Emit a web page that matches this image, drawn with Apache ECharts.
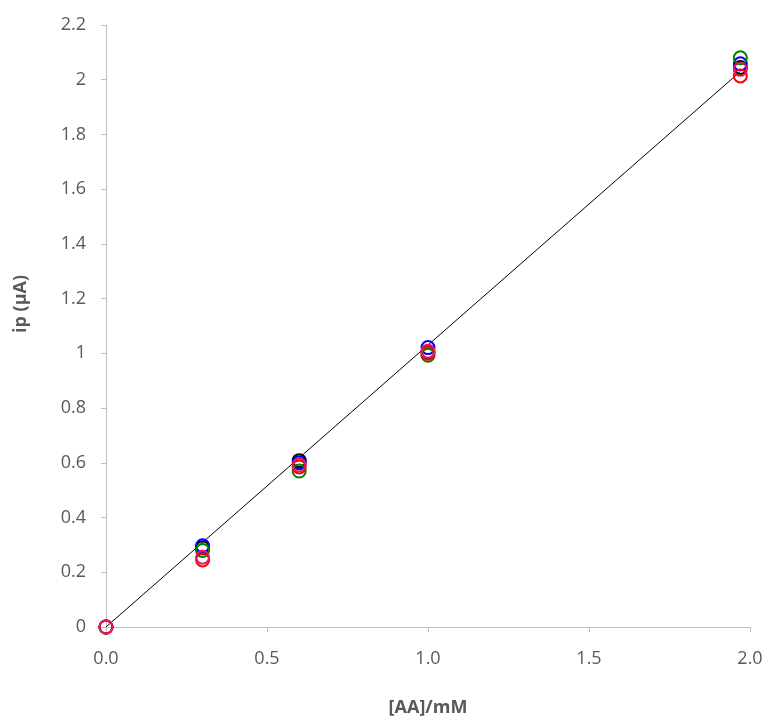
<!DOCTYPE html>
<html>
<head>
<meta charset="utf-8">
<script src="https://cdn.jsdelivr.net/npm/echarts@6/dist/echarts.min.js"></script>
<style>html,body{margin:0;padding:0;background:#fff}#c{width:768px;height:726px}</style>
</head>
<body>
<div id="c"></div>
<script>
// Concentrations [AA]/mM
var concentrations = [0, 0.3, 0.6, 1.0, 1.97];
// Peak currents ip (µA) for each replicate
var seriesBlack   = [0, 0.29,  0.608, 1.005, 2.045];
var seriesBlue    = [0, 0.297, 0.600, 1.021, 2.058];
var seriesGreen   = [0, 0.280, 0.570, 0.993, 2.080];
var seriesRed     = [0, 0.245, 0.585, 1.000, 2.014];
var seriesCrimson = [0, 0.255, 0.592, 1.008, 2.038];
// Trendline endpoints
var trendX = [0, 1.97];
var trendY = [0, 2.03];
var xTickLabels = ['0.0', '0.5', '1.0', '1.5', '2.0'];

var fontFam = "'Open Sans', sans-serif";
function pts(ys){ return concentrations.map(function(x,i){ return [x, ys[i]]; }); }
function sc(name, ys, color){
  return {
    type: 'scatter', name: name, data: pts(ys),
    symbol: 'circle', symbolSize: 13,
    itemStyle: { color: 'rgba(255,255,255,0)', borderColor: color, borderWidth: 2, opacity: 1 },
    z: 3
  };
}
var chart = echarts.init(document.getElementById('c'));
chart.setOption({
  animation: false,
  grid: { left: 106, right: 18, top: 25, bottom: 99 },
  xAxis: {
    type: 'value', min: 0, max: 2, interval: 0.5,
    name: '[AA]/mM', nameLocation: 'middle', nameGap: 72,
    nameTextStyle: { fontFamily: fontFam, fontSize: 18, fontWeight: 'bold', color: '#595959' },
    axisLine: { show: true, lineStyle: { color: '#bfbfbf', width: 1 } },
    axisTick: { show: true, length: 5, lineStyle: { color: '#bfbfbf' } },
    splitLine: { show: false },
    axisLabel: { fontFamily: fontFam, fontSize: 18, color: '#595959', margin: 23,
      formatter: function(v){ var i = Math.round(v / 0.5); return xTickLabels[i] !== undefined ? xTickLabels[i] : v.toFixed(1); } }
  },
  yAxis: {
    type: 'value', min: 0, max: 2.2, interval: 0.2,
    name: 'ip (µA)', nameLocation: 'middle', nameGap: 76, nameRotate: 90,
    nameTextStyle: { fontFamily: fontFam, fontSize: 18, fontWeight: 'bold', color: '#595959', padding: [0, 0, 0, 44] },
    axisLine: { show: true, lineStyle: { color: '#bfbfbf', width: 1 } },
    axisTick: { show: true, length: 5, lineStyle: { color: '#bfbfbf' } },
    splitLine: { show: false },
    axisLabel: { fontFamily: fontFam, fontSize: 18, color: '#595959', margin: 20,
      formatter: function(v){ return String(parseFloat(v.toFixed(1))); } }
  },
  series: [
    { type: 'line', data: trendX.map(function(x,i){ return [x, trendY[i]]; }),
      symbol: 'none', lineStyle: { color: '#000', width: 1 }, z: 2, silent: true },
    sc('black', seriesBlack, '#000000'),
    sc('blue', seriesBlue, '#0000ff'),
    sc('green', seriesGreen, '#008000'),
    sc('red', seriesRed, '#ff0000'),
    sc('crimson', seriesCrimson, '#e6195a')
  ]
});
</script>
</body>
</html>
